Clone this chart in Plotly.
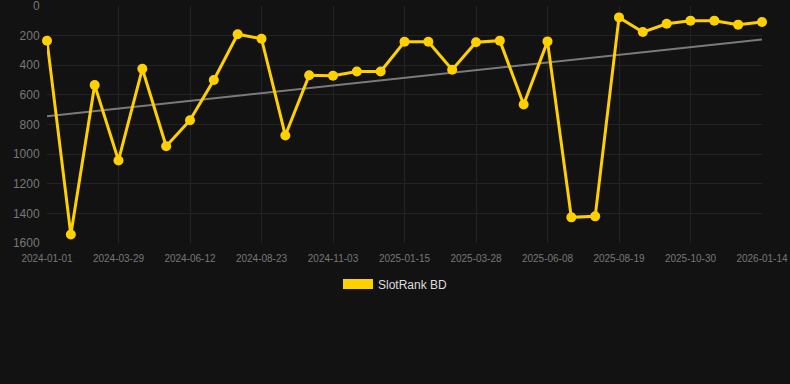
import numpy as np
import plotly.graph_objects as go

dates = ["2024-01-01", "2024-01-30", "2024-02-28", "2024-03-29", "2024-04-23", "2024-05-18",
         "2024-06-12", "2024-07-06", "2024-07-30", "2024-08-23", "2024-09-16", "2024-10-10",
         "2024-11-03", "2024-11-27", "2024-12-22", "2025-01-15", "2025-02-08", "2025-03-04",
         "2025-03-28", "2025-04-21", "2025-05-15", "2025-06-08", "2025-07-02", "2025-07-26",
         "2025-08-19", "2025-09-12", "2025-10-06", "2025-10-30", "2025-11-24", "2025-12-19",
         "2026-01-14"]
ranks = [235, 1543, 534, 1043, 424, 947, 771, 500, 191, 221, 874, 468, 471, 442, 442,
         241, 241, 430, 245, 234, 665, 239, 1427, 1420, 77, 176, 120, 99, 99, 126, 108]
y_ticks = [0, 200, 400, 600, 800, 1000, 1200, 1400, 1600]
series_name = "SlotRank BD"

idx = np.arange(len(dates))
slope, intercept = np.polyfit(idx, ranks, 1)
trend = slope * idx + intercept

tick_idx = list(idx[::3])
tick_txt = [dates[i] for i in tick_idx]

YELLOW = "#FFD000"
fig = go.Figure()
fig.add_trace(go.Scatter(x=idx, y=trend, mode="lines", line=dict(color="#7a7a7a", width=2),
                         showlegend=False, hoverinfo="skip", cliponaxis=False))
fig.add_trace(go.Scatter(x=idx, y=ranks, mode="lines+markers", name=series_name,
                         line=dict(color=YELLOW, width=3), marker=dict(color=YELLOW, size=10),
                         showlegend=False, cliponaxis=False))
fig.add_trace(go.Scatter(x=[None], y=[None], mode="lines", name=series_name,
                         line=dict(color=YELLOW, width=12), showlegend=True))

fig.update_layout(
    width=790, height=384,
    paper_bgcolor="#121212", plot_bgcolor="#121212",
    margin=dict(l=47, r=28, t=6, b=141),
    font=dict(family="Liberation Sans, Arial, sans-serif", color="#777"),
    legend=dict(orientation="h", x=0.4874, xanchor="center", y=-0.173, yanchor="middle",
                font=dict(color="#dddddd", size=12), bgcolor="rgba(0,0,0,0)"),
    xaxis=dict(range=[0, len(dates) - 1], tickmode="array", tickvals=tick_idx, ticktext=tick_txt,
               showgrid=True, gridcolor="#232323", gridwidth=1, zeroline=False,
               tickfont=dict(size=10, color="#777"), ticks="outside", ticklen=6,
               tickcolor="rgba(0,0,0,0)", showline=False, ticklabeloverflow="allow",
               automargin=False),
    yaxis=dict(range=[1600, 0], tickmode="array", tickvals=y_ticks,
               showgrid=True, gridcolor="#232323", gridwidth=1, zeroline=False,
               tickfont=dict(size=12, color="#777"), ticks="outside", ticklen=4,
               tickcolor="rgba(0,0,0,0)", showline=False, ticklabeloverflow="allow",
               automargin=False),
)
fig.write_html("out.html", config={"displayModeBar": False},
               post_script="document.body.style.margin='0';document.body.style.background='#121212';")
